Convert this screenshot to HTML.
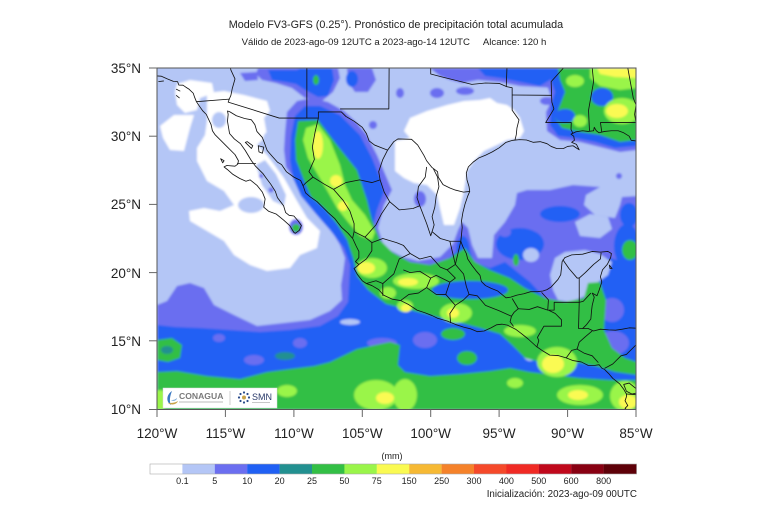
<!DOCTYPE html>
<html><head><meta charset="utf-8"><style>
html,body{margin:0;padding:0;background:#fff;}
svg{display:block;}
text{font-family:"Liberation Sans",Arial,sans-serif;}
</style></head><body>
<svg width="768" height="512" viewBox="0 0 768 512" xmlns="http://www.w3.org/2000/svg">
<defs>
<clipPath id="mc"><rect x="157" y="68" width="479" height="341.5"/></clipPath>
<filter id="sf"><feGaussianBlur stdDeviation="1"/></filter>
</defs>

<text x="396" y="28" font-size="10.8" text-anchor="middle" fill="#222">Modelo FV3-GFS (0.25°). Pronóstico de precipitación total acumulada</text>
<text x="394" y="45" font-size="9.6" text-anchor="middle" fill="#222">Válido de 2023-ago-09 12UTC a 2023-ago-14 12UTC<tspan dx="13">Alcance: 120 h</tspan></text>

<g clip-path="url(#mc)">
<g filter="url(#sf)">
<rect x="150" y="60" width="495" height="360" fill="#b4c6f6"/>
<!-- white -->
<g fill="#ffffff">
<path d="M177,84 L190,80 L212,83 L214,93 L200,98 L197,110 L185,113 L177,105 L175,92Z"/>
<path d="M160,126 L174,115 L194,115 L190,128 L184,151 L170,150 L163,138Z"/>
<path d="M207,93 L224,91 L244,95 L267,101 L270,111 L264,118 L267,135 L257,145 L267,155 L284,178 L297,201 L307,218 L320,231 L317,248 L300,255 L290,268 L267,271 L250,265 L234,255 L224,241 L207,231 L190,221 L189,211 L204,208 L220,211 L234,205 L224,191 L207,181 L197,161 L197,148 L205,135 L207,121Z"/>
<path d="M410,118 L427,111 L447,105 L464,101 L480,100 L490,98 L497,103 L507,105 L514,110 L520,118 L524,131 L520,138 L507,140 L497,145 L484,151 L474,161 L467,171 L464,191 L460,208 L454,225 L444,225 L440,208 L437,195 L427,185 L414,183 L404,178 L395,171 L395,141 L410,138 L404,131Z"/>
</g>
<g fill="#b4c6f6">
<ellipse cx="219" cy="120" rx="7" ry="8"/>
<ellipse cx="251" cy="205" rx="13" ry="8"/>
<path d="M256,165 L265,160 L276,174 L286,195 L284,206 L273,201 L262,185Z"/>
<ellipse cx="268" cy="140" rx="5" ry="8"/>
</g>
<!-- purple -->
<g fill="#6b6ef0">
<path d="M157,305 L167,301 L177,286 L190,283 L204,288 L214,305 L234,315 L257,326 L284,323 L310,320 L330,311 L342,300 L341,285 L343,273 L345,258 L340,245 L334,235 L324,216 L307,203 L297,183 L286,167 L284,150 L285,133 L287,112 L297,101 L312,98 L328,102 L344,111 L356,122 L366,134 L377,155 L386,176 L392,190 L384,205 L378,228 L384,247 L403,257 L418,261 L440,257 L453,244 L458,230 L462,222 L468,228 L472,245 L478,258 L492,258 L494,235 L505,222 L515,205 L517,193 L527,190 L550,190 L573,185 L600,187 L586,195 L584,205 L595,215 L615,218 L620,205 L622,197 L637,196 L637,410 L157,410Z"/>
<path d="M258,68 L338,68 L340,78 L333,92 L322,101 L305,98 L292,88 L276,83 L262,80 L256,74Z"/>
<path d="M240,73 L257,72 L258,80 L245,81Z"/>
<path d="M347,68 L372,68 L376,80 L368,92 L355,92 L348,82Z"/>
<path d="M430,68 L570,68 L568,78 L555,88 L520,86 L500,82 L478,80 L462,83 L450,80 L440,76Z"/>
<path d="M540,68 L637,68 L637,150 L620,152 L600,147 L580,142 L560,140 L547,131 L546,112 L552,100 L548,88 L542,78Z"/>
<ellipse cx="437" cy="93" rx="7" ry="5"/>
<ellipse cx="465" cy="91" rx="9" ry="4"/>
<ellipse cx="400" cy="93" rx="4" ry="5"/>
<ellipse cx="373" cy="125" rx="4" ry="4"/>
<ellipse cx="547" cy="101" rx="7" ry="4"/>
<ellipse cx="420" cy="199" rx="6" ry="8"/>
<ellipse cx="619" cy="176" rx="3" ry="3"/>
<circle cx="261" cy="176" r="2"/>
<circle cx="271" cy="190" r="2.5"/>
<ellipse cx="296" cy="227" rx="7" ry="8"/>
</g>
<!-- blue -->
<g fill="#2060f4">
<path d="M268,70 L297,70 L300,68 L332,68 L334,80 L328,96 L318,97 L305,90 L296,84 L285,82 L272,80Z"/>
<path d="M478,68 L552,68 L550,80 L540,86 L520,82 L500,78 L485,76Z"/>
<path d="M548,68 L637,68 L637,146 L615,148 L595,142 L575,138 L558,136 L550,125 L551,105 L555,92 L550,78Z"/>
<ellipse cx="352" cy="79" rx="6" ry="8"/>
<path d="M295,116 L305,106 L320,106 L340,115 L360,135 L372,158 L380,178 L384,192 L377,210 L372,230 L378,248 L398,262 L420,266 L445,262 L458,250 L468,245 L474,262 L490,268 L505,262 L515,270 L530,282 L545,298 L560,305 L580,300 L595,290 L605,270 L600,258 L610,258 L625,262 L637,262 L637,410 L157,410 L157,325 L175,327 L200,328 L230,330 L260,332 L290,330 L320,326 L338,316 L348,302 L349,285 L350,265 L344,248 L330,230 L316,214 L301,196 L293,178 L290,160 L291,136Z"/>
<ellipse cx="560" cy="214" rx="20" ry="8"/>
<ellipse cx="520" cy="244" rx="24" ry="16"/>
<ellipse cx="463" cy="252" rx="7" ry="16"/>
<ellipse cx="629" cy="215" rx="9" ry="12"/>
<ellipse cx="627" cy="246" rx="13" ry="22"/>
</g>
<!-- lavender overlays -->
<g fill="#b4c6f6">
<path d="M555,258 L565,252 L585,250 L600,254 L612,262 L608,275 L598,282 L585,296 L570,302 L558,300 L553,290 L550,275Z"/>
<path d="M575,222 L590,214 L608,217 L612,229 L600,238 L580,236Z"/>
<ellipse cx="531" cy="255" rx="8" ry="7"/>
<ellipse cx="530" cy="353" rx="7" ry="8"/>
<ellipse cx="350" cy="322" rx="10" ry="3"/>
</g>
<!-- purple patches in blue -->
<g fill="#6b6ef0">
<ellipse cx="219" cy="338" rx="6" ry="4"/>
<ellipse cx="254" cy="360" rx="10" ry="5"/>
<ellipse cx="300" cy="343" rx="7" ry="5"/>
<ellipse cx="382" cy="343" rx="15" ry="5"/>
<ellipse cx="425" cy="340" rx="12" ry="8"/>
<ellipse cx="613" cy="343" rx="16" ry="12"/>
<ellipse cx="612" cy="310" rx="12" ry="12"/>
<ellipse cx="545" cy="266" rx="7" ry="6"/>
<ellipse cx="505" cy="232" rx="6" ry="5"/>
</g>
<!-- green -->
<g fill="#33bf45">
<path d="M558,68 L637,68 L637,140 L620,142 L600,135 L580,132 L562,128 L555,118 L560,105 L565,92 L560,80Z"/>
<path d="M298,121 L318,120 L337,145 L357,170 L367,200 L372,220 L380,240 L392,252 L410,262 L430,265 L450,258 L465,248 L475,262 L490,270 L510,278 L525,288 L545,298 L565,302 L584,298 L588,283 L600,282 L606,300 L604,330 L612,348 L625,358 L637,362 L637,375 L615,372 L595,366 L575,362 L555,360 L540,362 L525,358 L512,345 L500,334 L480,328 L457,322 L433,316 L410,310 L386,304 L368,290 L357,276 L353,258 L347,240 L337,224 L324,208 L311,197 L303,178 L296,160 L295,140Z"/>
<path d="M157,340 L172,338 L182,345 L180,358 L168,362 L157,360Z"/>
<path d="M157,372 L177,371 L207,376 L240,379 L267,372 L290,369 L314,366 L330,362 L357,349 L390,342 L400,345 L398,365 L405,372 L430,376 L460,374 L490,371 L510,368 L530,372 L555,375 L580,378 L610,380 L637,380 L637,410 L157,410Z"/>
<ellipse cx="453" cy="334" rx="12" ry="6"/>
<ellipse cx="467" cy="358" rx="10" ry="7"/>
<ellipse cx="296" cy="228" rx="4" ry="4"/>
<ellipse cx="316" cy="80" rx="3" ry="5"/>
<ellipse cx="516" cy="260" rx="3" ry="6"/>
<ellipse cx="630" cy="250" rx="8" ry="10"/>
</g>
<g fill="#229090">
<ellipse cx="167" cy="350" rx="6" ry="4"/>
<ellipse cx="285" cy="356" rx="10" ry="4"/>
</g>
<!-- blue inside green -->
<g fill="#2060f4">
<ellipse cx="470" cy="290" rx="38" ry="9"/>
<ellipse cx="602" cy="97" rx="11" ry="9"/>
<ellipse cx="565" cy="116" rx="10" ry="7"/>
</g>
<!-- lime -->
<g fill="#9af54a">
<path d="M306,128 L318,124 L330,140 L340,165 L345,185 L352,200 L365,215 L375,232 L372,240 L360,236 L348,222 L337,208 L328,192 L318,175 L308,158 L303,140Z"/>
<ellipse cx="372" cy="268" rx="15" ry="10"/>
<ellipse cx="416" cy="281" rx="23" ry="8"/>
<ellipse cx="388" cy="293" rx="8" ry="6"/>
<ellipse cx="405" cy="306" rx="8" ry="6"/>
<ellipse cx="456" cy="313" rx="16" ry="10"/>
<ellipse cx="520" cy="331" rx="16" ry="6"/>
<ellipse cx="557" cy="362" rx="20" ry="15"/>
<ellipse cx="405" cy="395" rx="12" ry="16"/>
<ellipse cx="580" cy="395" rx="23" ry="10"/>
<ellipse cx="625" cy="396" rx="15" ry="15"/>
<ellipse cx="515" cy="383" rx="8" ry="5"/>
<ellipse cx="160" cy="400" rx="8" ry="10"/>
<ellipse cx="376" cy="395" rx="22" ry="15"/>
<ellipse cx="287" cy="391" rx="10" ry="6"/>
<ellipse cx="575" cy="81" rx="9" ry="6"/>
<path d="M590,68 L637,68 L637,88 L620,90 L600,86 L590,78Z"/>
<ellipse cx="622" cy="111" rx="18" ry="13"/>
<ellipse cx="580" cy="121" rx="7" ry="6"/>
</g>
<!-- yellow -->
<g fill="#fafa52">
<ellipse cx="318" cy="145" rx="5" ry="14"/>
<ellipse cx="336" cy="181" rx="6" ry="6"/>
<ellipse cx="343" cy="206" rx="5" ry="5"/>
<ellipse cx="366" cy="268" rx="9" ry="6"/>
<ellipse cx="408" cy="282" rx="10" ry="4"/>
<ellipse cx="406" cy="308" rx="5" ry="4"/>
<ellipse cx="453" cy="313" rx="6" ry="5"/>
<ellipse cx="553" cy="364" rx="11" ry="9"/>
<ellipse cx="617" cy="111" rx="11" ry="7"/>
<path d="M597,68 L637,68 L637,78 L615,77 L600,74Z"/>
<ellipse cx="578" cy="395" rx="10" ry="5"/>
<ellipse cx="628" cy="402" rx="9" ry="7"/>
<ellipse cx="385" cy="398" rx="9" ry="6"/>
</g>
</g>

<!-- coastlines and borders (lon,lat) -->
<g transform="translate(157,68) scale(13.686,-13.64) translate(120,-35)" fill="none" stroke="#111" stroke-width="0.06" stroke-linejoin="round">
<polyline points="-121,34.55 -120.47,34.45 -119.7,34.4 -119.25,34.2 -118.8,34.02 -118.5,34.0 -118.4,33.75 -118.1,33.74 -117.9,33.6 -117.65,33.44 -117.35,33.15 -117.25,32.85 -117.12,32.53 -116.9,32.2 -116.65,31.85 -116.4,31.6 -116.05,30.85 -115.95,30.4 -115.75,30.1 -115.3,29.65 -114.9,29.25 -114.3,28.65 -114.05,28.2 -114.1,27.95 -114.3,27.8 -114.9,27.85 -115.1,27.75 -114.85,27.55 -114.45,27.2 -113.95,26.9 -113.5,26.7 -113.2,26.8 -112.7,26.4 -112.3,25.9 -112.1,25.4 -112.2,24.8 -111.85,24.5 -111.3,24.3 -110.75,23.85 -110.3,23.45 -110.0,22.95 -109.9,22.88 -109.6,23.1 -109.45,23.45 -109.7,23.8 -110.0,24.15 -110.35,24.2 -110.6,24.4 -110.75,24.9 -111.2,25.5 -111.35,25.95 -111.7,26.5 -112.0,26.9 -112.25,27.25 -112.8,27.8 -113.1,28.2 -113.55,28.95 -113.9,29.45 -114.35,29.8 -114.7,30.2 -114.8,30.8 -114.85,31.1 -114.8,31.6 -114.85,31.85 -114.7,31.8 -114.2,31.5 -113.6,31.3 -113.1,31.2 -112.85,30.85 -112.7,30.35 -112.3,29.9 -112.15,29.5 -111.95,28.95 -111.6,28.55 -111.2,28.1 -110.9,27.92 -110.55,27.4 -110.0,27.0 -109.5,26.75 -109.3,26.3 -109.15,25.85 -108.8,25.55 -108.3,25.2 -107.9,24.8 -107.5,24.4 -107.0,23.95 -106.5,23.3 -106.05,22.9 -105.7,22.5 -105.45,21.95 -105.25,21.55 -105.25,21.1 -105.5,20.8 -105.25,20.6 -105.4,20.45 -105.6,20.3 -105.35,19.85 -105.0,19.4 -104.7,19.2 -104.3,19.05 -103.8,18.75 -103.45,18.35 -102.8,18.05 -102.2,17.95 -101.6,17.65 -101.0,17.25 -100.4,17.05 -99.9,16.85 -99.5,16.65 -98.8,16.45 -98.2,16.2 -97.6,16.0 -97.1,15.88 -96.6,15.67 -96.1,15.72 -95.6,15.95 -95.2,16.17 -94.8,16.22 -94.4,16.15 -93.8,15.85 -93.4,15.55 -92.9,15.15 -92.3,14.6 -91.8,14.25 -91.3,13.95 -90.7,13.92 -90.1,13.75 -89.6,13.55 -89.0,13.45 -88.5,13.2 -88.0,13.2 -87.7,13.25 -87.5,13.0 -87.3,12.9 -87.0,12.6 -86.7,12.25 -86.2,11.85 -85.9,11.45 -85.7,11.1 -85.7,10.9 -85.8,10.6 -85.6,10.25 -85.8,10.05 -85.65,9.9"/>
<polyline points="-84.5,15.9 -85.5,15.95 -86.0,15.85 -86.5,15.78 -87.0,15.8 -87.6,15.85 -88.1,15.72 -88.5,15.9 -88.9,15.9 -88.6,16.2 -88.3,16.6 -88.25,17.2 -88.2,17.6 -88.05,18.2 -88.2,18.5 -87.85,18.3 -87.7,18.7 -87.5,19.3 -87.6,19.7 -87.45,20.2 -87.1,20.6 -86.85,21.1 -86.8,21.4 -87.05,21.55 -87.6,21.5 -88.2,21.55 -88.9,21.35 -89.7,21.3 -90.2,21.1 -90.4,20.8 -90.45,20.3 -90.5,19.85 -90.7,19.5 -91.2,18.95 -91.5,18.75 -91.8,18.65 -92.2,18.6 -92.7,18.6 -93.2,18.45 -93.7,18.35 -94.15,18.2 -94.5,18.15 -94.8,18.4 -95.1,18.65 -95.6,18.85 -96.0,19.05 -96.3,19.35 -96.4,19.8 -96.7,20.15 -97.0,20.55 -97.3,21.0 -97.4,21.4 -97.65,21.9 -97.8,22.3 -97.75,22.8 -97.7,23.3 -97.75,23.8 -97.65,24.4 -97.5,25.0 -97.3,25.6 -97.15,25.95 -97.2,26.3 -97.35,26.8 -97.4,27.3 -97.25,27.75 -96.9,28.1 -96.5,28.4 -96.0,28.6 -95.5,28.85 -95.0,29.15 -94.75,29.35 -94.5,29.55 -94.0,29.7 -93.5,29.75 -93.0,29.72 -92.5,29.55 -92.0,29.6 -91.5,29.45 -91.2,29.25 -90.8,29.1 -90.3,29.1 -90.0,29.25 -89.6,29.3 -89.3,29.1 -89.15,29.0 -89.35,29.4 -89.7,29.55 -89.5,29.7 -89.55,30.0 -89.75,30.15 -89.4,30.32 -88.9,30.4 -88.5,30.35 -88.1,30.4 -88.05,30.65 -87.9,30.4 -87.7,30.25 -87.3,30.35 -86.8,30.4 -86.3,30.4 -85.9,30.25 -85.5,30.0 -85.35,29.7 -85.0,29.65 -84.5,29.9"/>
<polygon points="-112.6,29.3 -112.2,29.2 -112.3,28.75 -112.55,28.85"/>
<polygon points="-113.55,29.55 -113.1,29.1 -113.0,29.3 -113.4,29.6"/>
<polygon points="-115.35,28.35 -115.2,28.05 -115.1,28.2"/>
<polyline points="-119.9,34.0 -119.5,34.05"/>
<polyline points="-118.6,33.45 -118.3,33.3"/>
<polyline points="-118.6,33.0 -118.35,32.8"/>
<polygon points="-85.9,11.8 -85.5,11.9 -85.0,11.5 -84.8,11.2 -85.3,11.1 -85.7,11.3"/>
<polygon points="-86.95,20.55 -86.75,20.3 -86.9,20.3"/>
<polyline points="-117.12,32.53 -114.72,32.72 -114.8,32.5 -111.07,31.33 -108.21,31.33 -108.21,31.78 -106.53,31.78 -106.2,31.45 -105.6,31.1 -105.0,30.65 -104.7,30.2 -104.5,29.65 -104.1,29.35 -103.6,29.15 -103.15,28.98 -102.7,29.6 -102.4,29.8 -101.4,29.77 -100.95,29.35 -100.5,28.6 -100.3,28.2 -99.9,27.7 -99.5,27.4 -99.45,27.0 -99.1,26.45 -98.6,26.2 -98.2,26.05 -97.6,25.9 -97.15,25.95"/>
<polyline points="-114.72,32.72 -114.6,33.0 -114.5,33.5 -114.3,34.2 -114.6,34.85 -114.63,35.0"/>
<polyline points="-109.05,31.33 -109.05,35"/>
<polyline points="-106.62,32.0 -103.06,32.0 -103.04,35"/>
<polyline points="-100,35 -100,34.56 -99.2,34.35 -98.2,34.1 -97.0,33.8 -96.0,33.9 -95.0,33.87 -94.48,33.64 -94.43,35"/>
<polyline points="-94.48,33.64 -94.05,33.55 -94.05,31.9 -93.55,31.2 -93.7,30.6 -93.75,30.1 -93.85,29.7"/>
<polyline points="-94.05,33.02 -91.17,33.0 -91.15,32.5 -91.0,32.0 -91.6,31.0 -89.73,31.0 -89.75,30.5 -89.6,30.18"/>
<polyline points="-91.17,33.0 -91.2,34.0 -90.3,35"/>
<polyline points="-88.2,35.0 -88.1,34.0 -88.47,31.9 -88.4,30.39"/>
<polyline points="-87.5,30.3 -87.6,31.0 -85.0,31.0"/>
<polyline points="-85.6,35.0 -85.2,32.8 -85.0,32.3 -85.1,31.6 -85.0,31.0"/>
<polyline points="-114.15,28 -112.77,28"/>
<polyline points="-108.21,31.33 -108.45,30.3 -108.65,29.2 -108.5,28.3 -108.9,27.4 -108.6,27.0 -109.1,26.6 -109.35,26.35"/>
<polyline points="-108.6,27.0 -107.8,26.5 -107.1,26.1 -106.4,25.3 -105.9,24.5 -105.6,23.6 -105.6,23.0 -105.7,22.55"/>
<polyline points="-107.1,26.1 -106.2,26.6 -105.2,26.8 -104.3,26.6 -103.7,26.8 -103.8,27.4 -103.5,28.3 -103.15,28.98"/>
<polyline points="-103.7,26.8 -103.4,25.9 -103.0,25.2 -102.3,24.6 -101.3,24.7 -100.8,24.9"/>
<polyline points="-105.6,23.0 -104.8,22.6 -104.3,22.2 -104.3,21.6 -104.7,21.0 -105.25,20.6"/>
<polyline points="-104.8,22.6 -104.0,23.5 -103.6,24.3 -103.0,25.2"/>
<polyline points="-100.3,27.75 -100.4,27.0 -100.9,26.3 -101.0,25.5 -100.8,24.9 -100.3,23.6 -100.0,22.7 -99.9,23.0"/>
<polyline points="-99.8,27.6 -99.5,27.0 -99.4,26.3 -99.6,25.6 -99.7,24.8 -99.9,24.1 -99.75,23.5 -99.9,23.0 -99.3,22.5 -98.6,22.3 -97.8,22.3"/>
<polyline points="-104.3,22.2 -103.5,22.5 -102.5,22.2 -102.0,22.0 -101.5,21.4 -100.8,21.0 -100.0,21.2 -99.3,20.4 -98.8,20.2 -98.2,20.6 -98.6,22.3"/>
<polyline points="-101.5,21.4 -102.3,21.0 -102.7,19.9 -103.5,19.2 -104.0,19.4 -104.7,19.2"/>
<polyline points="-103.5,19.2 -103.5,18.3"/>
<polyline points="-102.2,17.95 -101.6,18.4 -100.9,18.5 -100.3,18.9 -100.0,19.6 -100.8,20.1 -101.5,20.0 -102.0,20.2"/>
<polyline points="-100.3,18.9 -99.6,18.4 -98.9,18.4 -98.6,19.3 -99.6,19.8 -100.0,19.6"/>
<polyline points="-98.6,19.3 -98.2,19.6 -98.8,20.2"/>
<polyline points="-98.55,16.3 -98.6,17.0 -98.2,17.6 -97.6,18.0 -97.2,18.4 -96.6,18.3 -96.0,17.6 -95.0,17.2 -94.1,16.8"/>
<polyline points="-98.2,17.6 -98.9,18.4"/>
<polyline points="-97.2,18.4 -97.4,19.0 -97.6,19.9 -98.2,20.6 -97.8,22.3"/>
<polyline points="-93.95,16.05 -94.2,16.4 -94.1,16.8 -93.9,17.1 -93.6,17.35 -94.05,18.1"/>
<polyline points="-93.6,17.35 -92.8,17.3 -92.2,17.5 -91.45,17.25 -91.4,18.0 -91.9,18.55"/>
<polyline points="-90.35,20.95 -89.9,20.3 -89.3,19.6 -89.15,19.6 -88.7,20.0 -88.1,20.6 -87.6,21.0 -87.55,21.45"/>
<polyline points="-89.15,19.6 -89.15,17.82"/>
<polyline points="-92.25,14.54 -92.1,15.0 -92.2,15.25 -91.73,16.07 -90.45,16.07 -90.45,16.55 -90.9,17.0 -91.4,17.25 -90.98,17.25 -90.98,17.82 -89.15,17.82 -88.85,17.9 -88.3,18.5"/>
<polyline points="-89.15,17.82 -89.2,15.9 -88.9,15.9"/>
<polyline points="-88.2,15.72 -88.7,15.3 -89.15,14.9 -89.3,14.4 -89.7,14.3 -90.1,13.75"/>
<polyline points="-89.35,14.42 -88.8,14.1 -88.2,13.9 -87.75,13.4"/>
<polyline points="-87.3,12.98 -86.7,13.3 -86.1,13.9 -85.7,14.0 -85.0,14.7"/>
<polyline points="-85.7,11.1 -85.0,11.05"/>
</g>
</g>

<rect x="157" y="68" width="479" height="341.5" fill="none" stroke="#555" stroke-width="1"/>

<g stroke="#666" stroke-width="1">
<line x1="149" y1="68" x2="157" y2="68"/>
<line x1="149" y1="136.2" x2="157" y2="136.2"/>
<line x1="149" y1="204.4" x2="157" y2="204.4"/>
<line x1="149" y1="272.6" x2="157" y2="272.6"/>
<line x1="149" y1="340.8" x2="157" y2="340.8"/>
<line x1="149" y1="409.5" x2="157" y2="409.5"/>
<line x1="157" y1="409.5" x2="157" y2="417"/>
<line x1="225.4" y1="409.5" x2="225.4" y2="417"/>
<line x1="293.9" y1="409.5" x2="293.9" y2="417"/>
<line x1="362.3" y1="409.5" x2="362.3" y2="417"/>
<line x1="430.7" y1="409.5" x2="430.7" y2="417"/>
<line x1="499.1" y1="409.5" x2="499.1" y2="417"/>
<line x1="567.6" y1="409.5" x2="567.6" y2="417"/>
<line x1="636" y1="409.5" x2="636" y2="417"/>
</g>
<g font-size="13.5" fill="#222" text-anchor="end">
<text x="141" y="73">35°N</text>
<text x="141" y="141">30°N</text>
<text x="141" y="209">25°N</text>
<text x="141" y="278">20°N</text>
<text x="141" y="346">15°N</text>
<text x="141" y="414">10°N</text>
</g>
<g font-size="13.5" fill="#222" text-anchor="middle">
<text x="157" y="438">120°W</text>
<text x="225.4" y="438">115°W</text>
<text x="293.9" y="438">110°W</text>
<text x="362.3" y="438">105°W</text>
<text x="430.7" y="438">100°W</text>
<text x="499.1" y="438">95°W</text>
<text x="567.6" y="438">90°W</text>
<text x="636" y="438">85°W</text>
</g>

<rect x="163" y="388" width="114" height="20" fill="#fff" stroke="#ddd" stroke-width="0.5"/>
<path d="M172,391 C166,395 166,402 171,405 C169,401 170,396 172,391Z" fill="#3a78c2"/>
<path d="M168,403 C172,406 177,404 178,401 C175,403 171,403 168,403Z" fill="#c9a34a"/>
<path d="M171,400 C174,402 177,400 177,398 C175,400 173,400 171,400Z" fill="#7aa7d6"/>
<text x="179" y="399" font-size="8.6" fill="#7a7a7a" font-family="Liberation Serif,serif" font-weight="bold">CONAGUA</text>
<rect x="179" y="401.5" width="44" height="1" fill="#bbb"/>
<line x1="230" y1="391" x2="230" y2="405" stroke="#bbb" stroke-width="0.7"/>
<g fill="#2a4a8a">
<circle cx="244" cy="392.5" r="1.1"/><circle cx="247.5" cy="394" r="1.1"/><circle cx="249" cy="397.5" r="1.1"/>
<circle cx="247.5" cy="401" r="1.1"/><circle cx="244" cy="402.5" r="1.1"/><circle cx="240.5" cy="401" r="1.1"/>
<circle cx="239" cy="397.5" r="1.1"/><circle cx="240.5" cy="394" r="1.1"/>
</g>
<circle cx="244" cy="397.5" r="2" fill="#c9a34a"/>
<text x="252" y="400" font-size="9" fill="#2a3a6a" font-family="Liberation Serif,serif">SMN</text>
<rect x="252" y="402" width="18" height="0.8" fill="#bbb"/>

<text x="392" y="459" font-size="9" text-anchor="middle" fill="#222">(mm)</text>
<g stroke="none">
<rect x="150" y="464" width="32.5" height="10" fill="#ffffff"/>
<rect x="182.4" y="464" width="32.5" height="10" fill="#b4c6f6"/>
<rect x="214.8" y="464" width="32.5" height="10" fill="#6b6ef0"/>
<rect x="247.2" y="464" width="32.5" height="10" fill="#2060f4"/>
<rect x="279.6" y="464" width="32.5" height="10" fill="#229090"/>
<rect x="312" y="464" width="32.5" height="10" fill="#33bf45"/>
<rect x="344.4" y="464" width="32.5" height="10" fill="#9af54a"/>
<rect x="376.8" y="464" width="32.5" height="10" fill="#fafa52"/>
<rect x="409.2" y="464" width="32.5" height="10" fill="#f6b934"/>
<rect x="441.6" y="464" width="32.5" height="10" fill="#f5822a"/>
<rect x="474" y="464" width="32.5" height="10" fill="#f5492a"/>
<rect x="506.4" y="464" width="32.5" height="10" fill="#f02a24"/>
<rect x="538.8" y="464" width="32.5" height="10" fill="#c0081c"/>
<rect x="571.2" y="464" width="32.5" height="10" fill="#880012"/>
<rect x="603.6" y="464" width="33" height="10" fill="#5e0008"/>
</g>
<rect x="150" y="464" width="486.6" height="10" fill="none" stroke="#aaa" stroke-width="0.6"/>
<g font-size="9" text-anchor="middle" fill="#222">
<text x="182.4" y="484">0.1</text>
<text x="214.8" y="484">5</text>
<text x="247.2" y="484">10</text>
<text x="279.6" y="484">20</text>
<text x="312" y="484">25</text>
<text x="344.4" y="484">50</text>
<text x="376.8" y="484">75</text>
<text x="409.2" y="484">150</text>
<text x="441.6" y="484">250</text>
<text x="474" y="484">300</text>
<text x="506.4" y="484">400</text>
<text x="538.8" y="484">500</text>
<text x="571.2" y="484">600</text>
<text x="603.6" y="484">800</text>
</g>
<text x="637" y="497" font-size="9.8" text-anchor="end" fill="#222">Inicialización: 2023-ago-09 00UTC</text>
</svg>
</body></html>
